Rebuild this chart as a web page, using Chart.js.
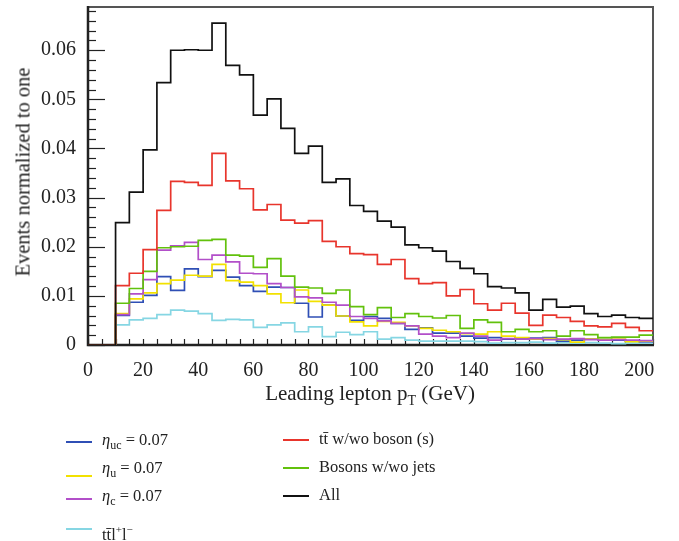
<!DOCTYPE html>
<html>
<head>
<meta charset="utf-8">
<script src="https://cdn.jsdelivr.net/npm/chart.js@4.4.0/dist/chart.umd.min.js"></script>
<style>
  body { margin: 0; background: #fff; }
  #wrap { position: relative; width: 679px; height: 541px; font-family: "Liberation Serif", "DejaVu Serif", serif; color: #222; }
  #chart { position: absolute; left: 0; top: 0; }
  .ytitle { position: absolute; left: 23px; top: 172px; transform: translate(-50%, -50%) rotate(-90deg); font-size: 20.5px; white-space: nowrap; }
  .xtitle { position: absolute; left: 370px; top: 383px; transform: translateX(-50%); font-size: 21px; white-space: nowrap; line-height: 1; }
  .xtitle sub { font-size: 14px; vertical-align: -5px; }
  .leg { position: absolute; font-size: 16.5px; line-height: 1; white-space: nowrap; }
  .sw { position: absolute; width: 26px; height: 1.6px; }
  .leg sub { font-size: 12px; vertical-align: -4px; }
  .leg sup { font-size: 11px; vertical-align: 7px; }
</style>
</head>
<body>
<div id="wrap">
  <canvas id="chart" width="679" height="541"></canvas>
  <div class="ytitle">Events normalized to one</div>
  <div class="xtitle">Leading lepton p<sub>T</sub> (GeV)</div>

  <div class="sw" style="left:66px; top:441px; background:#2f4fb5"></div>
  <div class="leg" style="left:102px; top:432px"><i>η</i><sub>uc</sub> = 0.07</div>
  <div class="sw" style="left:66px; top:475px; background:#f2e100"></div>
  <div class="leg" style="left:102px; top:460px"><i>η</i><sub>u</sub> = 0.07</div>
  <div class="sw" style="left:66px; top:498px; background:#b24fc9"></div>
  <div class="leg" style="left:102px; top:488px"><i>η</i><sub>c</sub> = 0.07</div>
  <div class="sw" style="left:66px; top:528px; background:#86d6e3"></div>
  <div class="leg" style="left:102px; top:524px">tt&#772;l<sup>+</sup>l<sup>&minus;</sup></div>

  <div class="sw" style="left:283px; top:439px; background:#e8352c"></div>
  <div class="leg" style="left:319px; top:431px">tt&#772; w/wo boson (s)</div>
  <div class="sw" style="left:283px; top:467px; background:#62c10c"></div>
  <div class="leg" style="left:319px; top:459px">Bosons w/wo jets</div>
  <div class="sw" style="left:283px; top:495px; background:#111"></div>
  <div class="leg" style="left:319px; top:487px">All</div>
</div>
<script>
// left edges of the 5 GeV bins, plus the closing edge at 205
const binEdges = [0, 5, 10, 15, 20, 25, 30, 35, 40, 45, 50, 55, 60, 65, 70, 75, 80, 85, 90, 95, 100,
  105, 110, 115, 120, 125, 130, 135, 140, 145, 150, 155, 160, 165, 170, 175, 180, 185, 190, 195, 200, 205];

const xTicks = [0, 20, 40, 60, 80, 100, 120, 140, 160, 180, 200];
const yTicks = [0, 0.01, 0.02, 0.03, 0.04, 0.05, 0.06];
const yTickLabels = ['0', '0.01', '0.02', '0.03', '0.04', '0.05', '0.06'];

// normalized counts per bin (0-5 ... 200-205)
const etaUC = [0, 0, 0.0060, 0.0087, 0.0101, 0.0139, 0.0111, 0.0155, 0.0139, 0.0152, 0.0138, 0.0121, 0.0109, 0.0118,
  0.0117, 0.0085, 0.0057, 0.0081, 0.0059, 0.0050, 0.0058, 0.0054, 0.0044, 0.0032, 0.0035, 0.0024, 0.0024, 0.0018,
  0.0014, 0.0015, 0.0012, 0.0014, 0.0014, 0.0015, 0.0008, 0.0010, 0.0012, 0.0011, 0.0010, 0.0008, 0.0007];
const etaU = [0, 0, 0.0064, 0.0094, 0.0106, 0.0125, 0.0132, 0.0142, 0.0140, 0.0164, 0.0131, 0.0128, 0.0121, 0.0104,
  0.0086, 0.0112, 0.0089, 0.0081, 0.0059, 0.0047, 0.0039, 0.0048, 0.0046, 0.0039, 0.0034, 0.0030, 0.0027, 0.0023,
  0.0022, 0.0027, 0.0018, 0.0015, 0.0012, 0.0013, 0.0011, 0.0006, 0.0012, 0.0011, 0.0012, 0.0007, 0.0008];
const etaC = [0, 0, 0.0062, 0.0104, 0.0133, 0.0193, 0.0202, 0.0209, 0.0174, 0.0183, 0.0169, 0.0146, 0.0145, 0.0125,
  0.0117, 0.0098, 0.0096, 0.0087, 0.0081, 0.0058, 0.0054, 0.0049, 0.0044, 0.0039, 0.0022, 0.0018, 0.0015, 0.0024,
  0.0018, 0.0010, 0.0013, 0.0012, 0.0013, 0.0011, 0.0012, 0.0013, 0.0011, 0.0010, 0.0011, 0.0010, 0.0009];
const ttll = [0, 0, 0.0041, 0.0051, 0.0054, 0.0062, 0.0071, 0.0069, 0.0064, 0.0050, 0.0052, 0.0051, 0.0036, 0.0041,
  0.0045, 0.0027, 0.0037, 0.0017, 0.0026, 0.0021, 0.0027, 0.0012, 0.0015, 0.0010, 0.0008, 0.0008, 0.0008, 0.0008,
  0.0007, 0.0004, 0.0005, 0.0005, 0.0006, 0.0004, 0.0005, 0.0004, 0.0005, 0.0004, 0.0003, 0.0004, 0.0004];
const ttBoson = [0, 0, 0.0121, 0.0146, 0.0194, 0.0274, 0.0333, 0.0331, 0.0325, 0.0390, 0.0334, 0.0318, 0.0275, 0.0286,
  0.0254, 0.0248, 0.0253, 0.0211, 0.0200, 0.0186, 0.0184, 0.0164, 0.0174, 0.0135, 0.0125, 0.0127, 0.0100, 0.0113,
  0.0084, 0.0071, 0.0085, 0.0065, 0.0040, 0.0061, 0.0056, 0.0048, 0.0039, 0.0037, 0.0044, 0.0036, 0.0029];
const bosons = [0, 0, 0.0085, 0.0115, 0.0150, 0.0198, 0.0200, 0.0201, 0.0213, 0.0215, 0.0183, 0.0181, 0.0158, 0.0176,
  0.0140, 0.0118, 0.0116, 0.0105, 0.0112, 0.0078, 0.0062, 0.0076, 0.0056, 0.0064, 0.0058, 0.0055, 0.0060, 0.0034,
  0.0051, 0.0046, 0.0027, 0.0032, 0.0027, 0.0029, 0.0018, 0.0029, 0.0021, 0.0015, 0.0016, 0.0016, 0.0020];
const allEvents = [0, 0, 0.0249, 0.0311, 0.0397, 0.0534, 0.0600, 0.0601, 0.0600, 0.0655, 0.0569, 0.0550, 0.0468, 0.0501,
  0.0441, 0.0390, 0.0405, 0.0331, 0.0338, 0.0284, 0.0272, 0.0252, 0.0240, 0.0204, 0.0198, 0.0191, 0.0170, 0.0156,
  0.0145, 0.0119, 0.0116, 0.0106, 0.0071, 0.0093, 0.0077, 0.0079, 0.0064, 0.0058, 0.0061, 0.0056, 0.0054];

// step histogram: one point per left edge, last bin closed at the final edge
function histPoints(values) {
  var pts = values.map(function(v, i) { return { x: binEdges[i], y: v }; });
  pts.push({ x: binEdges[values.length], y: values[values.length - 1] });
  return pts;
}

function series(label, values, color) {
  return {
    label: label,
    data: histPoints(values),
    borderColor: color,
    backgroundColor: 'transparent',
    borderWidth: 1.7,
    stepped: true,
    pointRadius: 0,
    fill: false
  };
}

const serif = '"Liberation Serif", "DejaVu Serif", serif';

// axis box with inward ticks, drawn under the histograms
const framePlugin = {
  id: 'frame',
  beforeDatasetsDraw(chart) {
    const ctx = chart.ctx;
    const a = chart.chartArea;
    const xs = chart.scales.x, ys = chart.scales.y;
    ctx.save();
    ctx.strokeStyle = '#222';
    ctx.lineWidth = 1.2;
    for (var v = 0; v <= 0.068 + 1e-9; v += 0.002) {
      var y = Math.round(ys.getPixelForValue(v)) + 0.5;
      var major = Math.abs(v / 0.01 - Math.round(v / 0.01)) < 1e-6;
      ctx.beginPath();
      ctx.moveTo(a.left, y);
      ctx.lineTo(a.left + (major ? 17 : 8), y);
      ctx.stroke();
    }
    for (var x = 0; x <= 205; x += 5) {
      var px = Math.round(xs.getPixelForValue(x)) + 0.5;
      ctx.beginPath();
      ctx.moveTo(px, a.bottom);
      ctx.lineTo(px, a.bottom - 6);
      ctx.stroke();
    }
    ctx.strokeStyle = '#555';
    ctx.lineWidth = 2;
    ctx.beginPath();
    ctx.moveTo(a.left, a.top);
    ctx.lineTo(a.right, a.top);
    ctx.lineTo(a.right, a.bottom);
    ctx.stroke();
    ctx.strokeStyle = '#222';
    ctx.lineWidth = 2.5;
    ctx.beginPath();
    ctx.moveTo(a.left, a.top - 1);
    ctx.lineTo(a.left, a.bottom);
    ctx.lineTo(a.right + 1, a.bottom);
    ctx.stroke();
    ctx.restore();
  }
};

const chart = new Chart(document.getElementById('chart').getContext('2d'), {
  type: 'line',
  data: {
    datasets: [
      series('All', allEvents, '#111111'),
      series('tt\u0304 w/wo boson (s)', ttBoson, '#e8352c'),
      series('Bosons w/wo jets', bosons, '#62c10c'),
      series('\u03b7c = 0.07', etaC, '#b24fc9'),
      series('\u03b7u = 0.07', etaU, '#f2e100'),
      series('\u03b7uc = 0.07', etaUC, '#2f4fb5'),
      series('tt\u0304l+l\u2212', ttll, '#86d6e3')
    ]
  },
  options: {
    responsive: false,
    animation: false,
    layout: { padding: { top: 7, right: 26, left: 0, bottom: 0 } },
    plugins: { legend: { display: false }, tooltip: { enabled: false } },
    scales: {
      x: {
        type: 'linear', min: 0, max: 205,
        grid: { display: false }, border: { display: false },
        afterFit: function(s) { s.height = 196; s.paddingLeft = 0; s.paddingRight = 0; },
        afterBuildTicks: function(s) { s.ticks = xTicks.map(function(v) { return { value: v }; }); },
        ticks: {
          font: { family: serif, size: 20 }, color: '#222', padding: 6,
          maxRotation: 0, autoSkip: false,
          callback: function(v) { return String(v); }
        }
      },
      y: {
        type: 'linear', min: 0, max: 0.0688,
        grid: { display: false }, border: { display: false },
        afterFit: function(s) { s.width = 88; s.paddingTop = 0; s.paddingBottom = 0; },
        afterBuildTicks: function(s) { s.ticks = yTicks.map(function(v) { return { value: v }; }); },
        ticks: {
          font: { family: serif, size: 20 }, color: '#222', padding: 4,
          callback: function(v, i) { return yTickLabels[i]; }
        }
      }
    }
  },
  plugins: [framePlugin]
});
</script>
</body>
</html>
